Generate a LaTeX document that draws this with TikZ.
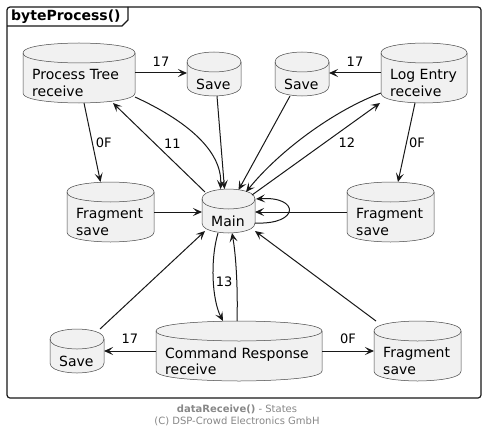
\documentclass[tikz,border=0pt]{standalone}
\usepackage{fontspec}
\setmainfont{DejaVu Sans}
\usetikzlibrary{arrows.meta,calc}
\definecolor{ink}{HTML}{181818}
\definecolor{dbfill}{HTML}{F1F1F1}
\definecolor{footgray}{HTML}{888888}
\tikzset{
  dbbox/.style={draw=none, rectangle, inner sep=0pt, outer sep=0pt},
  dbtext/.style={inner sep=0pt, anchor=north west, align=left, font=\fontsize{14}{16.3}\selectfont},
  lbl/.style={inner sep=0pt, font=\fontsize{13}{15}\selectfont},
  arr/.style={draw=ink, line width=1pt, -{Stealth[length=9pt,width=8pt,inset=4pt]}},
  dbshape/.style={draw=ink!80, fill=dbfill, line width=0.5pt},
  dbfront/.style={draw=ink!80, line width=0.5pt},
  frameline/.style={draw=ink, line width=1.2pt},
  foottext/.style={inner sep=0pt, anchor=base, text=footgray, font=\fontsize{10}{12}\selectfont},
}
% name, left, top, width, height, text
\newcommand\mydb[6]{%
  \pgfmathsetmacro\dbR{#2+#4}%
  \pgfmathsetmacro\dbM{#2+#4/2}%
  \pgfmathsetmacro\dbB{#3+#5}%
  \node[dbbox, minimum width=#4pt, minimum height=#5pt] (#1) at (\dbM,{#3+#5/2}) {};
  \path[dbshape] (#2,{#3+10}) .. controls (#2,#3) and (\dbM,#3) .. (\dbM,#3)
     .. controls (\dbM,#3) and (\dbR,#3) .. (\dbR,{#3+10})
     -- (\dbR,{\dbB-10})
     .. controls (\dbR,\dbB) and (\dbM,\dbB) .. (\dbM,\dbB)
     .. controls (\dbM,\dbB) and (#2,\dbB) .. (#2,{\dbB-10}) -- cycle;
  \path[dbfront] (#2,{#3+10}) .. controls (#2,{#3+20}) and (\dbM,{#3+20}) .. (\dbM,{#3+20})
     .. controls (\dbM,{#3+20}) and (\dbR,{#3+20}) .. (\dbR,{#3+10});
  \node[dbtext] (#1-t) at ({#2+9},{#3+26.5}) {#6};
}
\begin{document}
\begin{tikzpicture}[x=1pt,y=-1pt]
\fill[white] (0,0) rectangle (486,433);
\useasboundingbox (0,0) rectangle (486,433);

% frame
\draw[frameline, rounded corners=3pt] (7,7) rectangle (481,398);
\draw[frameline] (7,26) -- (122,26) -- (128,20) -- (128,7);
\node[anchor=base west, inner sep=0pt, font=\bfseries\fontsize{14}{16}\selectfont] (title) at (11,21) {byteProcess()};

% states
\mydb{pt}{23}{43}{112}{60}{Process Tree\\receive}
\mydb{savetl}{187}{52}{54}{44}{Save}
\mydb{savetr}{275}{52}{54}{44}{Save}
\mydb{le}{381}{43}{86}{60}{Log Entry\\receive}
\mydb{fragl}{67}{182}{87}{60}{Fragment\\save}
\mydb{main}{202}{189}{53}{44}{Main}
\mydb{fragr}{347}{182}{87}{60}{Fragment\\save}
\mydb{savebl}{50}{329}{54}{44}{Save}
\mydb{cr}{156}{321}{166}{60}{Command Response\\receive}
\mydb{fragbr}{374}{321}{87}{60}{Fragment\\save}

% connectors
\draw[arr] (pt.east) -- node[lbl, above=6pt] {17} (pt.east -| savetl.west);
\draw[arr] ($(pt.south)+(5,0)$) -- node[lbl, right=3pt] {0F} ($(fragl.north)+(-10,0)$);
\draw[arr] ($(main.north west)+(3,3)$) -- node[lbl, pos=0.54, xshift=17pt] {11} ($(pt.south east)+(-22,0)$);
\draw[arr] ($(pt.south east)+(0,-6)$) .. controls ($(pt.south east)+(50,17)$) and ($(main.north)+(-6,-39)$) .. ($(main.north)+(-8,0)$);
\draw[arr] ($(savetl.south)+(3,0)$) -- ($(main.north)+(-4,0)$);
\draw[arr] ($(savetr.south)+(-12,0)$) -- ($(main.north)+(10,1)$);
\draw[arr] ($(le.south west)+(0,-10)$) .. controls ($(le.south west)+(-46,7)$) and ($(main.north)+(51.5,-39)$) .. ($(main.north)+(17.5,3)$);
\draw[arr] ($(main.north east)+(-3,6)$) -- node[lbl, pos=0.57, xshift=22pt] {12} ($(le.south west)+(-1,0)$);
\draw[arr] (le.west) -- node[lbl, above=6pt] {17} (le.west -| savetr.east);
\draw[arr] ($(le.south)+(-9,0)$) -- node[lbl, right=2pt] {0F} ($(fragr.north)+(7.5,0)$);
\draw[arr] (fragl.east) -- (fragl.east -| main.west);
\draw[arr] (fragr.west) -- (fragr.west -| main.east);
\draw[arr] ($(main.south east)+(0,-10)$) .. controls ($(main.south east)+(45,-8)$) and ($(main.north east)+(45,7)$) .. ($(main.north east)+(1,10)$);
\draw[arr] ($(main.south)+(-10.5,0)$) .. controls ($(main.south)+(-18.5,27)$) and ($(cr.north)+(-27,-21)$) .. node[lbl, pos=0.5, right=2pt, yshift=-3pt] {13} ($(cr.north)+(-16,0)$);
\draw[arr] ($(cr.north)+(-2,0)$) .. controls ($(cr.north)+(-1,-31)$) and ($(main.south)+(7.5,22)$) .. ($(main.south)+(3.5,0)$);
\draw[arr] ($(savebl.north east)+(-4,0)$) -- ($(main.south west)+(3,-2)$);
\draw[arr] ($(fragbr.north west)+(2,0)$) -- ($(main.south east)+(0,-2)$);
\draw[arr] (cr.west) -- node[lbl, above=7pt] {17} (cr.west -| savebl.east);
\draw[arr] (cr.east) -- node[lbl, above=7pt] {0F} (cr.east -| fragbr.west);

% footer
\node[foottext] (foot1) at (237,412.5) {\textbf{dataReceive()} - States};
\node[foottext] (foot2) at (237,424) {(C) DSP-Crowd Electronics GmbH};
\end{tikzpicture}
\end{document}
